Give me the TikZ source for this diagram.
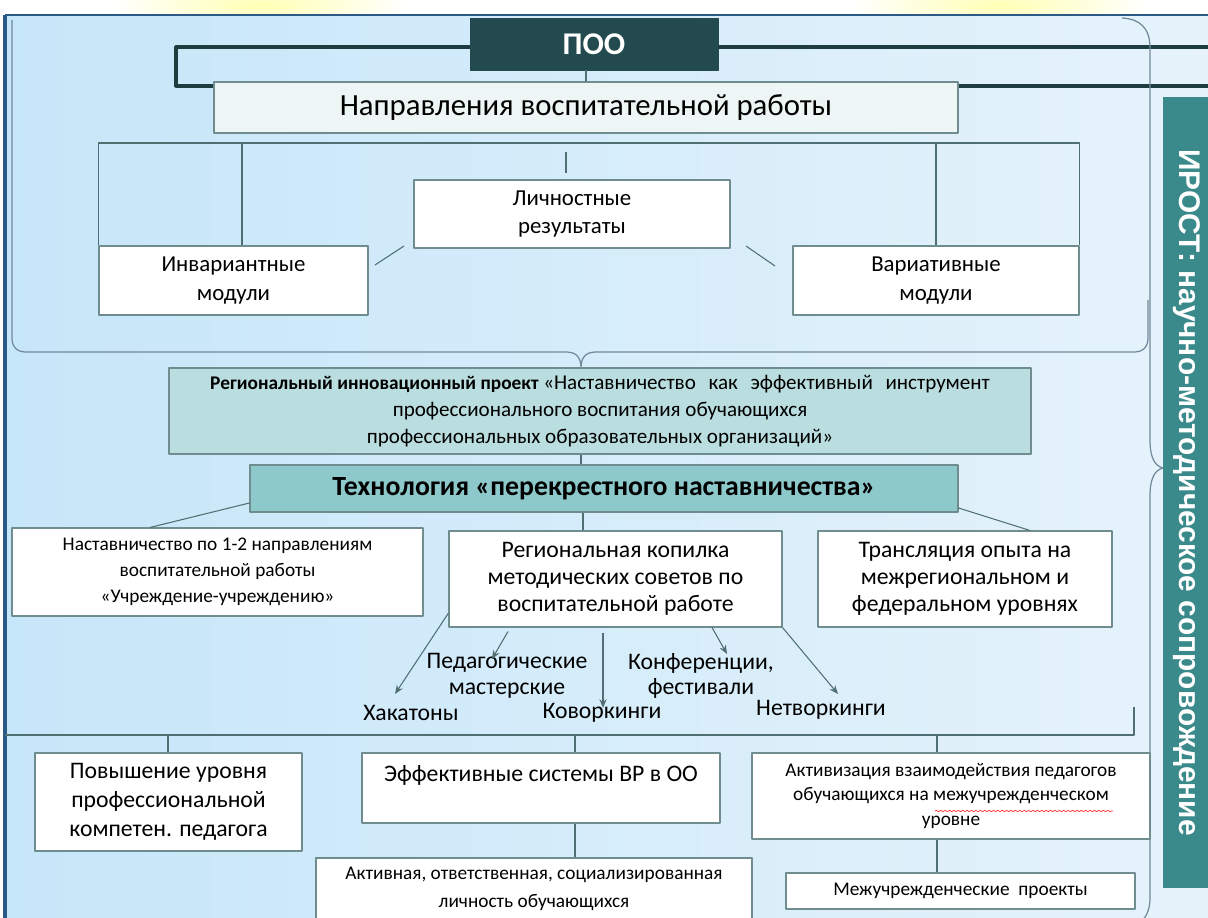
\documentclass[tikz,border=0pt]{standalone}
\usepackage{fontspec}
\setmainfont{Carlito}
\newfontfamily\irostfont{Liberation Sans}
\usetikzlibrary{arrows.meta, decorations.pathmorphing}
\definecolor{panelL}{HTML}{C6E6F9}
\definecolor{panelR}{HTML}{E6F3FB}
\definecolor{rimc}{HTML}{2B5A86}
\definecolor{boxline}{HTML}{6F8C8E}
\definecolor{linkc}{HTML}{4F6F72}
\definecolor{bracec}{HTML}{71899A}
\definecolor{barc}{HTML}{1E3D41}
\definecolor{pooc}{HTML}{234A4E}
\definecolor{naprc}{HTML}{EDF6F4}
\definecolor{projc}{HTML}{BADDDF}
\definecolor{techc}{HTML}{8DC8CB}
\definecolor{irostc}{HTML}{3B8A8B}
\newcommand{\fpt}[2]{\fontsize{#1pt}{#2pt}\selectfont}
\newcommand{\wgap}{\hspace{0.6em}}

\begin{document}
\begin{tikzpicture}[x=0.02cm, y=-0.02cm, line join=round,
  sz/.style 2 args={minimum width=#1*0.02cm, minimum height=#2*0.02cm},
  wbox/.style={draw=boxline, line width=0.6pt, fill=white, align=center, inner sep=0pt, font=\fpt{13}{16.4}},
  link/.style={draw=linkc, line width=0.6pt},
  arr/.style={link, -{Stealth[length=5pt, width=4pt]}},
  bar/.style={draw=barc, line width=1.8pt},
  brace/.style={draw=bracec, line width=0.7pt},
  lbl/.style={align=center, inner sep=0pt, font=\fpt{13.5}{14.5}}]

  \useasboundingbox (0,0) rectangle (1208,918);
  % фон
  \fill[white] (0,0) rectangle (1208,918);
  \begin{scope}
    \clip (0,0) rectangle (1208,15);
    \shade[inner color=yellow!30, outer color=white] (260,5) ellipse [x radius=3cm, y radius=0.5cm];
    \shade[inner color=yellow!30, outer color=white] (1000,5) ellipse [x radius=3cm, y radius=0.5cm];
  \end{scope}
  \shade[left color=panelL, right color=panelR] (5,15) rectangle (1208,918);
  \draw[rimc, line width=0.8pt] (5,15) -- (1208,15);
  \draw[rimc, line width=2pt] (5,15) -- (5,918);

  % ПОО
  \node[draw=pooc, fill=pooc, sz={248}{52}, inner sep=0pt, text=white, font=\bfseries\fpt{18}{20}] (poo) at (594,44) {ПОО};
  \node[wbox, fill=naprc, sz={744}{51}, font=\fpt{17.5}{19}] (napr) at (586,107.5) {Направления воспитательной работы};
  \draw[bar] (poo.west |- 0,47) -- (176,47) -- (176,86) -- (napr.west |- 0,86);
  \draw[bar] (poo.east |- 0,47) -- (1208,47);
  \draw[bar] (napr.east |- 0,86) -- (1208,86);
  \draw[link] (napr.north) -- (napr.north |- poo.south);

  % модули
  \node[wbox, sz={316}{68}] (lich) at (572,214) {Личностные\\результаты};
  \node[wbox, sz={269}{69}] (inv) at (233.5,280.5) {Инвариантные\\модули};
  \node[wbox, sz={286}{69}] (var) at (936,280.5) {Вариативные\\модули};
  \coordinate (br) at (0,143);
  \draw[link] (inv.north west) -- (inv.north west |- br) -- (var.north east |- br) -- (var.north east);
  \draw[link] (242,143) -- (inv.north -| 242,0);
  \draw[link] (936,143) -- (var.north -| 936,0);
  \draw[link] (566,152) -- (566,173);
  \draw[link] (375,265) -- (404,246);
  \draw[link] (746,246) -- (775,266);

  % скобки
  \draw[brace] (12,20) -- (12,338) .. controls (12,347) and (17,352) .. (26,352) -- (566,352)
    .. controls (576,352) and (581,357) .. (581,368) .. controls (581,357) and (586,352) .. (596,352)
    -- (1134,352) .. controls (1143,352) and (1148,347) .. (1148,338) -- (1148,300);
  \draw[brace] (1122,18) .. controls (1140,19) and (1150,28) .. (1150,48) -- (1150,440)
    .. controls (1150,458) and (1155,466) .. (1163,468) .. controls (1155,470) and (1150,478) .. (1150,496)
    -- (1150,898) .. controls (1150,908) and (1147,915) .. (1143,920);

  % проект и технология
  \node[wbox, fill=projc, sz={862}{86}, font=\fpt{12}{15.5}] (proj) at (600,411)
    {{\bfseries\fpt{11}{15.5}Региональный инновационный проект} «Наставничество\wgap как\wgap эффективный\wgap инструмент\\профессионального воспитания обучающихся\\профессиональных образовательных организаций»};
  \node[wbox, fill=techc, sz={708}{47}, font=\bfseries\fpt{15.8}{17}] (tech) at (604,488.5) {Технология «перекрестного наставничества»};
  \draw[link] (proj.south -| 581,0) -- (tech.north -| 581,0);

  \node[wbox, sz={411}{88}, font=\fpt{11}{14.7}] (nast) at (217.5,572) {Наставничество по 1-2 направлениям\\воспитательной работы\\«Учреждение-учреждению»};
  \node[wbox, sz={333}{96}, font=\fpt{13.5}{15.5}] (kop) at (615.5,579) {Региональная копилка\\методических советов по\\воспитательной работе};
  \node[wbox, sz={294}{96}, font=\fpt{13.5}{15.5}] (trans) at (965,579) {Трансляция опыта на\\межрегиональном и\\федеральном уровнях};
  \draw[link] (tech.south -| 583,0) -- (kop.north -| 583,0);
  \draw[link] (tech.west |- 0,503) -- (nast.north -| 150,0);
  \draw[link] (tech.east |- 0,508) -- (trans.north -| 1030,0);

  % формы
  \node[lbl] (ped) at (507,676) {Педагогические\\мастерские};
  \node[lbl] (hak) at (411,713) {Хакатоны};
  \node[lbl] (kov) at (602,713) {Коворкинги};
  \node[lbl] (konf) at (701,676) {Конференции,\\фестивали};
  \node[lbl] (netw) at (821,710) {Нетворкинги};
  \draw[arr] (kop.west |- 0,613) -- (395,694);
  \draw[arr] (kop.south -| 508,0) ++(0,4) -- (492,659);
  \draw[arr] (kop.south -| 603,0) ++(0,5) -- (603,708);
  \draw[arr] (kop.south -| 712,0) -- (727,654);
  \draw[arr] (kop.south east) -- (838,694);

  % результаты
  \draw[link] (5,735) -- (1134,735) -- (1134,707);
  \coordinate (t1) at (168,735);
  \coordinate (t2) at (575,735);
  \coordinate (t3) at (937,735);
  \node[wbox, sz={267}{98}, font=\fpt{13.5}{16.4}] (pov) at (168.5,802) {Повышение уровня\\профессиональной\\компетен. педагога};
  \node[wbox, sz={358}{70}, font=\fpt{13.5}{16}] (eff) at (541,788) {Эффективные системы ВР в ОО\\\mbox{}};
  \node[wbox, sz={436}{62}, font=\fpt{11}{15.9}] (akt) at (534,889) {Активная, ответственная, социализированная\\личность обучающихся};
  \node[wbox, sz={398}{86}, font=\fpt{11}{14.2}] (aktv) at (951,796) {Активизация взаимодействия педагогов\\обучающихся на межучрежденческом\\уровне};
  \node[wbox, sz={349}{36}, font=\fpt{11}{14}] (mezh) at (960.5,891) {Межучрежденческие\ \ проекты};
  \draw[link] (t1) -- (pov.north -| t1);
  \draw[link] (t2) -- (eff.north -| t2);
  \draw[link] (t3) -- (aktv.north -| t3);
  \draw[link] (eff.south -| t2) -- (akt.north -| t2);
  \draw[link] (aktv.south -| t3) -- (mezh.north -| t3);
  \draw[red!80, line width=0.4pt, decorate, decoration={snake, amplitude=0.4pt, segment length=2.5pt}] (935,811) -- (1113,811);

  % ИРОСТ
  \node[fill=irostc, sz={791}{47}, inner sep=0pt, rotate=-90, text=white, font=\irostfont\bfseries\fpt{17}{18}] (irost) at (1186.5,492.5) {ИРОСТ: научно-методическое сопровождение};
\end{tikzpicture}
\end{document}
